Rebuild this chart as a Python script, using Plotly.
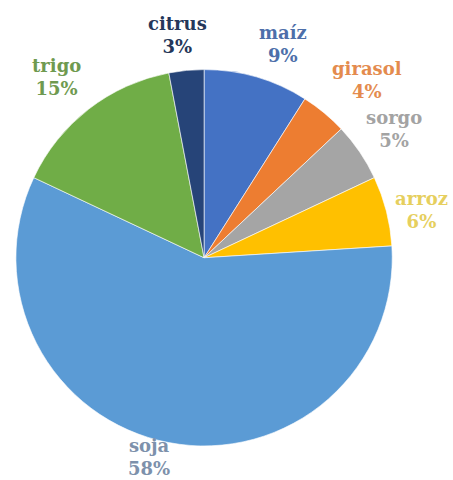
import math
import plotly.graph_objects as go

# Participación de cada cultivo (%)
cultivos = ["maíz", "girasol", "sorgo", "arroz", "soja", "trigo", "citrus"]
porcentajes = [9, 4, 5, 6, 58, 15, 3]

colores_porcion = ["#4472C4", "#ED7D31", "#A5A5A5", "#FFC000", "#5B9BD5", "#70AD47", "#264478"]
colores_texto = ["#4d6faa", "#e48b4e", "#a3a3a3", "#e6cf5e", "#7d91ab", "#6f9a50", "#25375a"]

# distancia de cada etiqueta al centro (en radios) y pequeño giro angular (grados)
radio_etiqueta = [1.21, 1.28, 1.22, 1.185, 1.10, 1.24, 1.19]
giro_etiqueta = [4, 3, 0, 2, 4.6, -1.5, -1.3]

W, H = 453, 480
dom_x = [0.035, 0.866]
dom_y = [0.071, 0.855]

fig = go.Figure(
    go.Pie(
        labels=cultivos,
        values=porcentajes,
        sort=False,
        direction="clockwise",
        rotation=0,
        marker=dict(colors=colores_porcion, line=dict(color="rgba(255,255,255,0.6)", width=1)),
        textinfo="none",
        hoverinfo="label+percent",
        domain=dict(x=dom_x, y=dom_y),
        showlegend=False,
    )
)

# Etiquetas ubicadas sobre el ángulo medio de cada porción
cx = W * (dom_x[0] + dom_x[1]) / 2
cy = H * (1 - (dom_y[0] + dom_y[1]) / 2)
r = min(W * (dom_x[1] - dom_x[0]), H * (dom_y[1] - dom_y[0])) / 2
total = sum(porcentajes)
acum = 0
for nombre, p, col, fr, dg in zip(cultivos, porcentajes, colores_texto, radio_etiqueta, giro_etiqueta):
    medio = (acum + p / 2) / total * 360 + dg
    acum += p
    ang = math.radians(medio)
    px = cx + fr * r * math.sin(ang)
    py = cy - fr * r * math.cos(ang)
    fig.add_annotation(
        x=px / W,
        y=1 - py / H,
        xref="paper",
        yref="paper",
        xanchor="center",
        yanchor="middle",
        showarrow=False,
        text=f"<b>{nombre}<br>{p}%</b>",
        font=dict(family="DejaVu Serif, serif", size=18, color=col),
    )

fig.update_layout(
    width=W,
    height=H,
    margin=dict(l=0, r=0, t=0, b=0),
    paper_bgcolor="white",
    plot_bgcolor="white",
)

fig.write_html("out.html")
